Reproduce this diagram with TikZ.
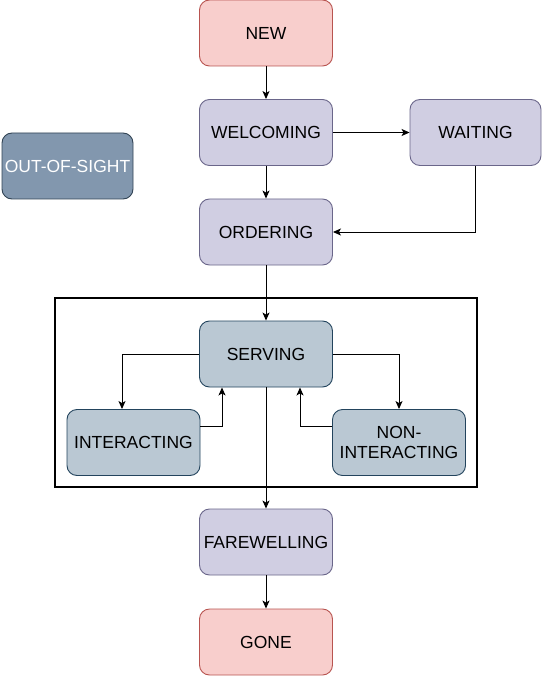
\documentclass[tikz,border=0pt]{standalone}
\usepackage{fontspec}
\setmainfont{Liberation Sans}
\usetikzlibrary{arrows.meta}
\definecolor{redfill}{HTML}{F8CECC}
\definecolor{redline}{HTML}{B85450}
\definecolor{purfill}{HTML}{D0CEE2}
\definecolor{purline}{HTML}{6A668A}
\definecolor{bluefill}{HTML}{BAC8D3}
\definecolor{blueline}{HTML}{23445D}
\definecolor{grayfill}{HTML}{8297AE}
\definecolor{grayline}{HTML}{314354}
\tikzset{
  statebox/.style={rounded corners=10pt, minimum width=133pt, minimum height=66pt, inner sep=0pt, line width=0.9pt, align=center, font=\fontsize{17.5}{20}\selectfont, text=black},
  redbox/.style={statebox, fill=redfill, draw=redline},
  purbox/.style={statebox, fill=purfill, draw=purline},
  bluebox/.style={statebox, fill=bluefill, draw=blueline},
  graybox/.style={statebox, fill=grayfill, draw=grayline, text=white},
  arr/.style={-{Stealth[length=8pt,width=7pt,inset=2pt]}, line width=1pt}
}
\begin{document}
\begin{tikzpicture}[x=1pt,y=-1pt]
\useasboundingbox (0,0) rectangle (544,676);
\node (group) [draw, line width=1.1pt, minimum width=422pt, minimum height=189pt, inner sep=0pt] at (266,392.5) {};
\node (new) [redbox] at (266,33) {NEW};
\node (welcoming) [purbox] at (266,132.5) {WELCOMING};
\node (waiting) [purbox, minimum width=131pt] at (475.5,132.5) {WAITING};
\node (oos) [graybox, minimum width=131pt] at (67.5,166) {OUT-OF-SIGHT};
\node (ordering) [purbox] at (266,232) {ORDERING};
\node (serving) [bluebox] at (266,354) {SERVING};
\node (interacting) [bluebox] at (133.5,442.5) {INTERACTING};
\node (noninteracting) [bluebox] at (399,442.5) {NON-\\INTERACTING};
\node (farewelling) [purbox] at (266,542) {FAREWELLING};
\node (gone) [redbox] at (266,642) {GONE};
\draw[arr] (new) -- (welcoming);
\draw[arr] (welcoming) -- (waiting);
\draw[arr] (welcoming) -- (ordering);
\draw[arr] (waiting.south) |- (ordering.east);
\draw[arr] (ordering) -- (serving);
\draw[arr] (serving.west) -| ([xshift=-11.5pt]interacting.north);
\draw[arr] ([yshift=16pt]interacting.east) -| ([xshift=-44pt]serving.south);
\draw[arr] (serving.east) -| (noninteracting.north);
\draw[arr] ([yshift=16pt]noninteracting.west) -| ([xshift=34pt]serving.south);
\draw[arr] (serving) -- (farewelling);
\draw[arr] (farewelling) -- (gone);
\end{tikzpicture}
\end{document}
